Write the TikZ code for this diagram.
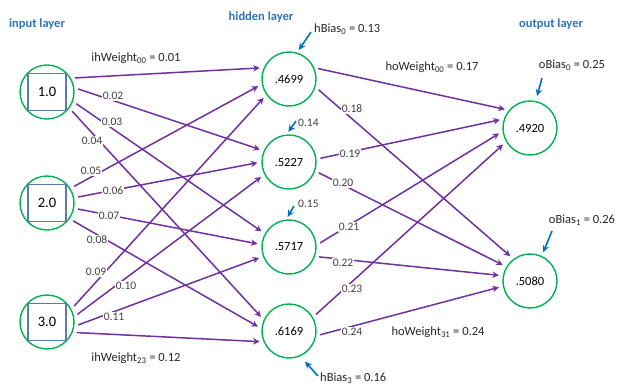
\documentclass[tikz,border=0pt]{standalone}
\usepackage{fontspec}
\setmainfont{Carlito}
\usetikzlibrary{arrows.meta}
\definecolor{wpurple}{HTML}{7030A0}
\definecolor{ngreen}{HTML}{00B050}
\definecolor{bblue}{HTML}{0070C0}
\definecolor{lblue}{HTML}{2E75B6}
\definecolor{sqblue}{HTML}{5B7BA8}
\definecolor{lgray}{HTML}{404040}
\begin{document}
\begin{tikzpicture}[x=1pt,y=-1pt,
 neuron/.style={circle,draw=ngreen,line width=1.4pt,minimum size=54pt,inner sep=0pt,font=\fontsize{12.5}{12.5}\selectfont},
 inbox/.style={rectangle,draw=sqblue,line width=1.2pt,minimum width=38pt,minimum height=37pt,inner sep=0pt,font=\fontsize{14.5}{14.5}\selectfont},
 wline/.style={draw=wpurple,line width=1.5pt,-{Stealth[length=6.5pt,width=6.5pt]},shorten <=4pt,shorten >=4pt},
 wlab/.style={fill=white,inner sep=1.2pt,text=lgray,font=\fontsize{11.5}{11.5}\selectfont},
 biga/.style={draw=bblue,line width=1.6pt,-{Stealth[length=7pt,width=6.5pt]}},
 blab/.style={inner sep=0pt,text=black!85,font=\fontsize{12.5}{12.5}\selectfont},
 layer/.style={inner sep=0pt,text=lblue,font=\bfseries\fontsize{12.5}{12.5}\selectfont}
]
\useasboundingbox (0,0) rectangle (617,386);

% layer titles
\node[layer] (tin) at (37,24) {input layer};
\node[layer] (thid) at (261,17) {hidden layer};
\node[layer] (tout) at (551,24) {output layer};

% input nodes
\node[neuron] (I0) at (47,92) {};
\node[neuron] (I1) at (47,203) {};
\node[neuron] (I2) at (47,322) {};
\node[inbox] (B0) at (I0) {1.0};
\node[inbox] (B1) at (I1) {2.0};
\node[inbox] (B2) at (I2) {3.0};

% hidden nodes
\node[neuron] (H0) at (289,79) {.4699};
\node[neuron] (H1) at (289,162) {.5227};
\node[neuron] (H2) at (289,247) {.5717};
\node[neuron] (H3) at (289,331) {.6169};

% output nodes
\node[neuron] (O0) at (530,128) {.4920};
\node[neuron] (O1) at (530,281) {.5080};

% input -> hidden
\draw[wline] (I0.30) -- (H0.156);
\draw[wline] (I0.9) -- (H1.156);
\draw[wline] (I0.-20) -- (H2.151);
\draw[wline] (I0.-36) -- (H3.156);
\draw[wline] (I1.32) -- (H0.191);
\draw[wline] (I1.11) -- (H1.180);
\draw[wline] (I1.-11) -- (H2.175);
\draw[wline] (I1.-35) -- (H3.175);
\draw[wline] (I2.28) -- (H0.215);
\draw[wline] (I2.11) -- (H1.207);
\draw[wline] (I2.-9) -- (H2.200);
\draw[wline] (I2.-22) -- (H3.203);

% hidden -> output
\draw[wline] (H0.24) -- (O0.140);
\draw[wline] (H0.-17) -- (O1.127);
\draw[wline] (H1.6) -- (O0.161);
\draw[wline] (H1.-19) -- (O1.149);
\draw[wline] (H2.4) -- (O0.187);
\draw[wline] (H2.-20) -- (O1.169);
\draw[wline] (H3.30) -- (O0.210);
\draw[wline] (H3.-10) -- (O1.191);

% weight labels on lines
\node[wlab] (w02) at (113,96) {0.02};
\node[wlab] (w03) at (112,122) {0.03};
\node[wlab] (w04) at (92,141) {0.04};
\node[wlab] (w05) at (91,171) {0.05};
\node[wlab] (w06) at (113,191) {0.06};
\node[wlab] (w07) at (109,216) {0.07};
\node[wlab] (w08) at (97,240) {0.08};
\node[wlab] (w09) at (96,272) {0.09};
\node[wlab] (w10) at (126,286) {0.10};
\node[wlab] (w11) at (114,317) {0.11};
\node[wlab] (w18) at (352,109) {0.18};
\node[wlab] (w19) at (350,154) {0.19};
\node[wlab] (w20) at (343,183) {0.20};
\node[wlab] (w21) at (349,227) {0.21};
\node[wlab] (w22) at (343,263) {0.22};
\node[wlab] (w23) at (352,289) {0.23};
\node[wlab] (w24) at (352,332) {0.24};

% named weight labels
\node[blab] (ih00) at (136,58) {ihWeight\textsubscript{00} = 0.01};
\node[blab] (ih23) at (136,358) {ihWeight\textsubscript{23} = 0.12};
\node[blab] (ho00) at (432,67) {hoWeight\textsubscript{00} = 0.17};
\node[blab] (ho31) at (438,332) {hoWeight\textsubscript{31} = 0.24};

% bias labels and arrows
\node[blab,anchor=west] (hb0) at (314,29) {hBias\textsubscript{0} = 0.13};
\node[wlab,fill=none,inner sep=0pt,anchor=west] (hb1) at (298,123) {0.14};
\node[wlab,fill=none,inner sep=0pt,anchor=west] (hb2) at (298,204) {0.15};
\node[blab,anchor=west] (hb3) at (320,378) {hBias\textsubscript{3} = 0.16};
\node[blab] (ob0) at (572,65) {oBias\textsubscript{0} = 0.25};
\node[blab] (ob1) at (582,220) {oBias\textsubscript{1} = 0.26};

\coordinate (ahb0) at (311,32);
\coordinate (ahb1) at (296,121);
\coordinate (ahb2) at (294,206);
\coordinate (ahb3) at (318,376);
\coordinate (aob0) at (542,78);
\coordinate (aob1) at (552,231);
\draw[biga,shorten >=3pt] (ahb0) -- (H0.73);
\draw[biga,shorten >=3pt] (ahb1) -- (H1.95);
\draw[biga,shorten >=3pt] (ahb2) -- (H2.96);
\draw[biga,shorten >=7pt] (ahb3) -- (H3.-66);
\draw[biga,shorten >=5pt] (aob0) -- (O0.78);
\draw[biga,shorten >=4pt] (aob1) -- (O1.65);
\end{tikzpicture}
\end{document}
